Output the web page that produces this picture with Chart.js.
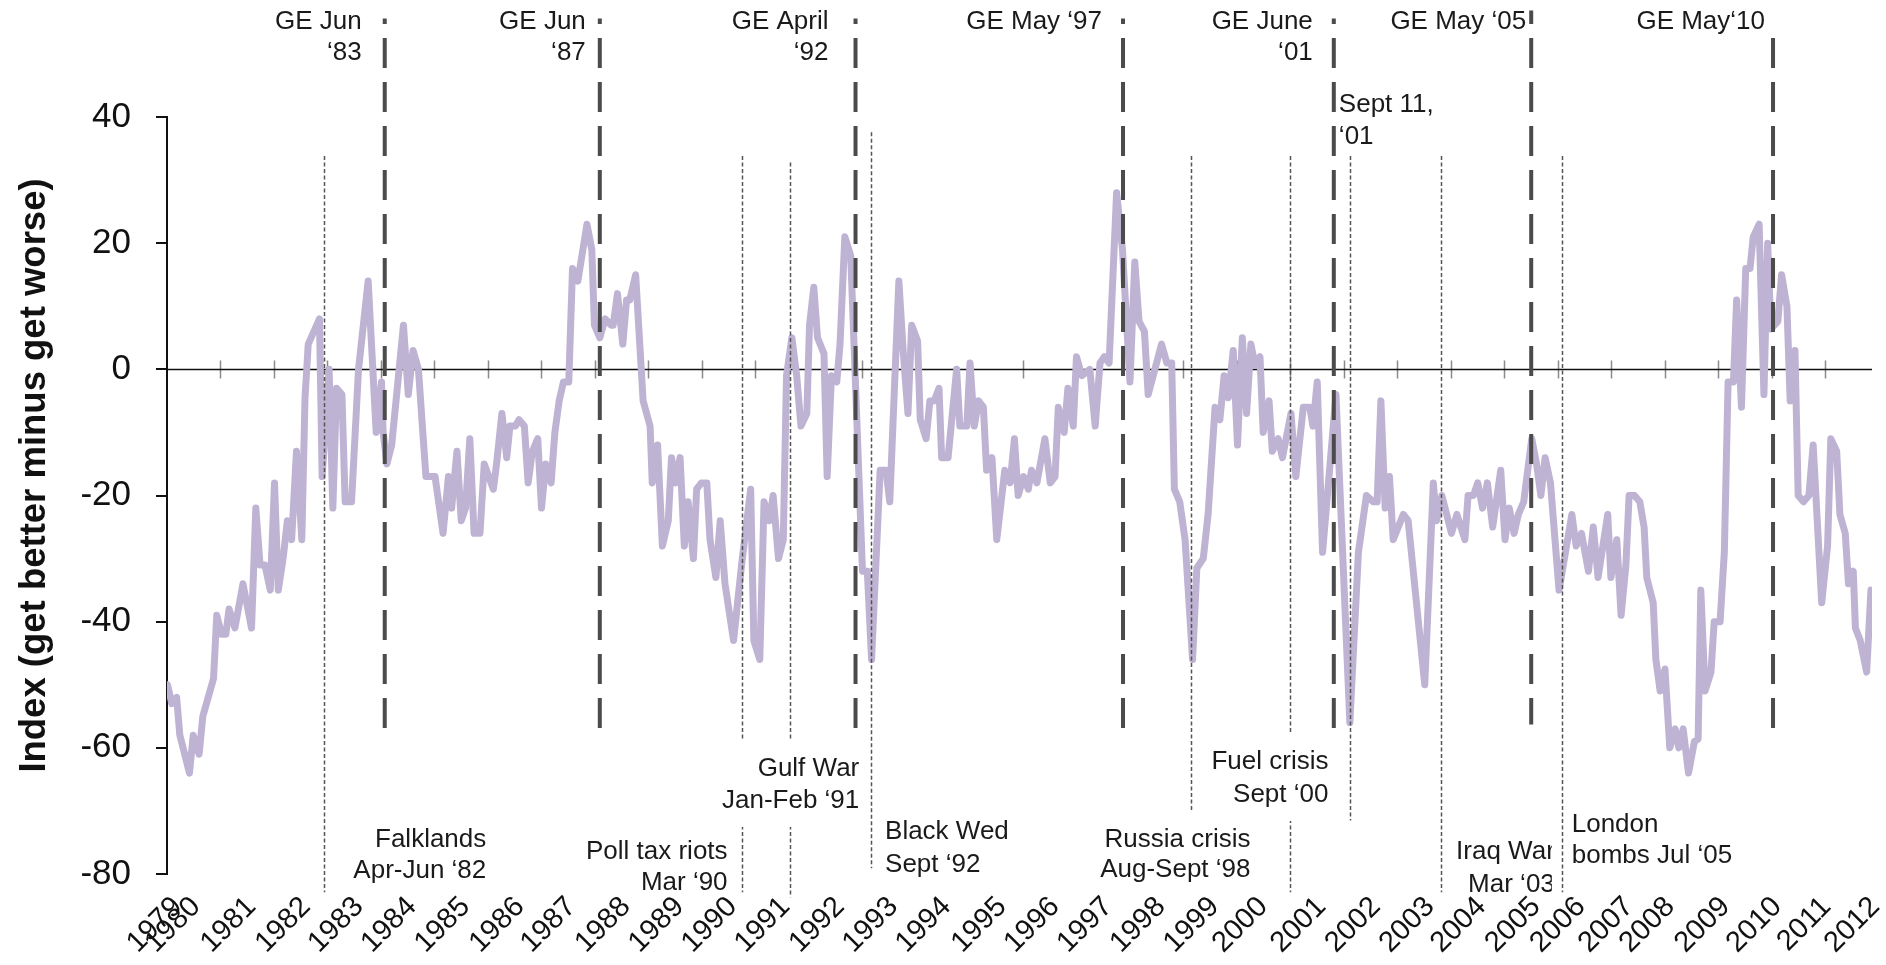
<!DOCTYPE html>
<html>
<head>
<meta charset="utf-8">
<script src="https://cdn.jsdelivr.net/npm/chart.js@4.4.1/dist/chart.umd.min.js"></script>
<style>
  html, body { margin: 0; padding: 0; background: #fff; }
</style>
</head>
<body>
<canvas id="chart" width="1886" height="965"></canvas>
<script>
const FONT = '"Liberation Sans", Arial, Helvetica, sans-serif';

// x runs in "axis years": one tick mark per year, starting part way through 1979
const X_MIN = 1979.4;
const X_MAX = 2011.27;

// year labels sit between the tick marks, a bit squeezed after 2005
const yearLabels = ['1979', '1980', '1981', '1982', '1983', '1984', '1985', '1986', '1987', '1988',
  '1989', '1990', '1991', '1992', '1993', '1994', '1995', '1996', '1997', '1998', '1999', '2000',
  '2001', '2002', '2003', '2004', '2005', '2006', '2007', '2008', '2009', '2010', '2011', '2012'];
const yearLabelAt = [1979.6, 1979.94, 1980.98, 1982.00, 1982.99, 1983.98, 1984.98, 1986.00, 1986.96, 1987.98,
  1988.98, 1989.97, 1990.96, 1991.98, 1992.98, 1993.97, 1995.01, 1996.00, 1996.99, 1997.98, 1998.98, 1999.89,
  2000.98, 2002.00, 2003.01, 2003.97, 2004.99, 2005.83, 2006.73, 2007.50, 2008.53, 2009.50, 2010.42, 2011.33];

// index (get better minus get worse)
const months = [
  1979.41, 1979.49, 1979.58, 1979.64, 1979.82, 1979.89, 1980.00, 1980.07, 1980.27, 1980.33,
  1980.42, 1980.50, 1980.56, 1980.67, 1980.82, 1980.98, 1981.06, 1981.14, 1981.23, 1981.33,
  1981.41, 1981.48, 1981.57, 1981.65, 1981.73, 1981.82, 1981.92, 1981.98, 1982.04, 1982.25,
  1982.30, 1982.43, 1982.50, 1982.57, 1982.67, 1982.73, 1982.85, 1982.98, 1983.16, 1983.31,
  1983.41, 1983.44, 1983.51, 1983.60, 1983.82, 1983.91, 1984.00, 1984.10, 1984.19, 1984.24,
  1984.41, 1984.56, 1984.66, 1984.72, 1984.82, 1984.90, 1984.98, 1985.06, 1985.14, 1985.25,
  1985.33, 1985.50, 1985.56, 1985.66, 1985.75, 1985.81, 1985.91, 1985.98, 1986.08, 1986.15,
  1986.23, 1986.33, 1986.40, 1986.48, 1986.58, 1986.65, 1986.73, 1986.81, 1986.91, 1986.98,
  1987.08, 1987.25, 1987.34, 1987.39, 1987.49, 1987.59, 1987.70, 1987.74, 1987.82, 1987.92,
  1987.99, 1988.05, 1988.16, 1988.30, 1988.43, 1988.47, 1988.57, 1988.66, 1988.77, 1988.83,
  1988.91, 1988.99, 1989.07, 1989.14, 1989.24, 1989.30, 1989.39, 1989.49, 1989.55, 1989.66,
  1989.74, 1989.83, 1989.99, 1990.14, 1990.31, 1990.37, 1990.48, 1990.56, 1990.66, 1990.73,
  1990.83, 1990.92, 1990.98, 1991.08, 1991.17, 1991.25, 1991.36, 1991.41, 1991.49, 1991.56,
  1991.68, 1991.74, 1991.82, 1991.92, 1991.98, 1992.07, 1992.18, 1992.40, 1992.49, 1992.57,
  1992.73, 1992.84, 1992.91, 1993.08, 1993.16, 1993.25, 1993.32, 1993.43, 1993.48, 1993.59,
  1993.66, 1993.74, 1993.83, 1993.88, 1994.00, 1994.16, 1994.22, 1994.35, 1994.41, 1994.49,
  1994.57, 1994.66, 1994.72, 1994.82, 1994.91, 1995.06, 1995.16, 1995.24, 1995.31, 1995.41,
  1995.50, 1995.56, 1995.66, 1995.81, 1995.91, 1996.00, 1996.06, 1996.17, 1996.24, 1996.34,
  1996.40, 1996.50, 1996.65, 1996.75, 1996.84, 1996.92, 1997.01, 1997.15, 1997.26, 1997.40,
  1997.49, 1997.57, 1997.67, 1997.74, 1997.99, 1998.09, 1998.18, 1998.23, 1998.33, 1998.43,
  1998.57, 1998.65, 1998.77, 1998.86, 1998.99, 1999.08, 1999.16, 1999.24, 1999.33, 1999.41,
  1999.50, 1999.58, 1999.66, 1999.74, 1999.83, 1999.89, 2000.00, 2000.06, 2000.17, 2000.25,
  2000.41, 2000.50, 2000.64, 2000.76, 2000.82, 2000.90, 2001.00, 2001.25, 2001.51, 2001.67,
  2001.82, 2001.95, 2002.02, 2002.09, 2002.17, 2002.25, 2002.32, 2002.51, 2002.60, 2002.91,
  2003.07, 2003.13, 2003.23, 2003.32, 2003.41, 2003.51, 2003.66, 2003.72, 2003.82, 2003.90,
  2003.99, 2004.08, 2004.18, 2004.33, 2004.41, 2004.49, 2004.58, 2004.66, 2004.76, 2004.91,
  2005.00, 2005.08, 2005.16, 2005.26, 2005.42, 2005.66, 2005.74, 2005.84, 2005.97, 2006.06,
  2006.15, 2006.33, 2006.39, 2006.50, 2006.58, 2006.67, 2006.73, 2006.83, 2006.93, 2007.01,
  2007.06, 2007.18, 2007.23, 2007.31, 2007.40, 2007.49, 2007.59, 2007.66, 2007.74, 2007.84,
  2007.95, 2008.02, 2008.07, 2008.15, 2008.26, 2008.32, 2008.43, 2008.51, 2008.58, 2008.68,
  2008.74, 2008.83, 2008.91, 2008.99, 2009.05, 2009.16, 2009.25, 2009.32, 2009.38, 2009.51,
  2009.58, 2009.68, 2009.74, 2009.83, 2009.89, 2009.99, 2010.09, 2010.17, 2010.33, 2010.44,
  2010.50, 2010.61, 2010.67, 2010.77, 2010.83, 2010.92, 2010.96, 2011.05, 2011.17, 2011.25,
];
const index = [
  -50, -53, -52, -58, -64, -58, -61, -55, -49, -39,
  -42, -42, -38, -41, -34, -41, -22, -31, -31, -35,
  -18, -35, -30, -24, -27, -13, -27, -4.5, 4, 8,
  -17, 0, -22, -3, -4, -21, -21, 0, 14, -10,
  -2, -10, -15, -12, 7, -4, 3, 0, -11, -17,
  -17, -26, -17, -22, -13, -24, -22, -11, -26, -26,
  -15, -19, -15, -7, -14, -9, -9, -8, -9, -18,
  -13, -11, -22, -15, -18, -10, -5, -2, -2, 16,
  14, 23, 19, 7, 5, 8, 7, 7, 12, 4,
  11, 11, 15, -5, -9, -18, -12, -28, -24, -14,
  -18, -14, -28, -21, -30, -19, -18, -18, -27, -33,
  -24, -34, -43, -31, -19, -43, -46, -21, -24, -20,
  -30, -27, -1, 5, -1, -9, -7, 7, 13, 5,
  2.5, -17, -1, -2, 4, 21, 18, -32, -32, -46,
  -16, -16, -21, 14, 3, -7, 7, 4.5, -8, -11,
  -5, -5, -3, -14, -14, 0, -9, -9, 1, -9,
  -5, -6, -16, -14, -27, -16, -18, -11, -20, -17,
  -19, -16, -18, -11, -18, -17, -6, -10, -3, -9,
  2, -1, 0, -9, 1, 2, 1, 28, 19, -2,
  17, 7.6, 6, -4, 4, 1, 1, -19, -21, -27,
  -46, -31.5, -30, -23, -6, -8, -1, -4.5, 3, -12,
  5, -7, 4, 0.6, 2, -10, -5, -13, -11, -14,
  -7, -17, -6, -6, -9, -2, -29, -4, -56, -29,
  -20, -21, -21, -5, -22, -17, -27, -23, -24, -50,
  -18, -24, -20, -23, -26, -23, -27, -20, -20, -18,
  -22, -18, -25, -16, -27, -22, -26, -23, -21, -11,
  -15, -20, -14, -18, -35, -23, -28, -26, -32, -25,
  -33, -23, -33, -27, -39, -31, -20, -20, -21, -25,
  -33, -37, -46, -51, -47.5, -60, -57, -60, -57, -64,
  -59, -58.6, -35, -51, -48, -40, -40, -29, -2, -2,
  11, -6, 16, 16, 21, 23, -4, 20, 6.4, 7.6,
  15, 10, -5, 3, -20, -21, -20, -12, -37, -28,
  -11, -13, -23, -26, -34, -32, -41, -43, -48, -35,
];

// general elections (dashed) and other events (dotted)
const elections = [['GE Jun', '‘83'], ['GE Jun', '‘87'], ['GE April', '‘92'], ['GE May ‘97'],
  ['GE June', '‘01'], ['GE May ‘05'], ['GE May‘10']];
const electionAt = [1983.47, 1987.49, 1992.27, 1997.27, 2001.21, 2004.90, 2009.42];
const electionSpan = [[55.6, -57.2], [55.6, -57.2], [55.6, -57.2], [55.6, -57.2],
  [55.6, -57.2], [56.9, -56.3], [54.2, -58.6]];

const events = [['Falklands', 'Apr-Jun ‘82'], ['Poll tax riots', 'Mar ‘90'], ['Gulf War', 'Jan-Feb ‘91'],
  ['Black Wed', 'Sept ‘92'], ['Russia crisis', 'Aug-Sept ‘98'], ['Fuel crisis', 'Sept ‘00'],
  ['Sept 11,', '‘01'], ['Iraq War', 'Mar ‘03'], ['London', 'bombs Jul ‘05']];
const eventAt = [1982.34, 1990.14, 1991.05, 1992.56, 1998.55, 2000.40, 2001.51, 2003.21, 2005.47];
const eventSpan = [[33.8, -82.9], [33.8, -82.9], [32.8, -83.7], [37.6, -79.1], [33.8, -70.0],
  [33.8, -82.9], [33.8, -71.5], [33.8, -82.9], [33.8, -82.9]];

// where the annotation texts sit next to their lines
const electionDx = [-23, -14, -27, -21, -21, -5, -8];
const electionRows = [22, 53];
const eventLayout = [
  { align: 'right', dx: 162, rows: [840, 871] },
  { align: 'right', dx: -14, rows: [852, 883] },
  { align: 'right', dx: 69, rows: [769, 801], box: true },
  { align: 'left', dx: 14, rows: [832, 865] },
  { align: 'right', dx: 59, rows: [840, 870] },
  { align: 'right', dx: 38, rows: [762, 795], box: true },
  { align: 'left', dx: -11, rows: [105, 137] },
  { align: 'right', dx: 114, rows: [852, 885], clip: -3 },
  { align: 'left', dx: 10, rows: [825, 856] },
];

const TEXT = '#1a1a1a';

const overlays = {
  id: 'overlays',
  beforeDatasetsDraw(chart) {
    const { ctx, chartArea: a, scales: { x, y } } = chart;
    const y0 = Math.round(y.getPixelForValue(0)) + 0.5;
    ctx.save();
    // small year ticks across the zero line
    ctx.strokeStyle = '#8a8a8a';
    ctx.lineWidth = 1.5;
    ctx.beginPath();
    for (let t = X_MIN + 1; t < X_MAX; t++) {
      const px = Math.round(x.getPixelForValue(t)) + 0.5;
      ctx.moveTo(px, y0 - 9);
      ctx.lineTo(px, y0 + 9);
    }
    ctx.stroke();
    ctx.strokeStyle = '#111';
    ctx.lineWidth = 1.5;
    ctx.beginPath();
    ctx.moveTo(a.left, y0);
    ctx.lineTo(a.right, y0);
    ctx.stroke();
    ctx.restore();
  },
  afterDatasetsDraw(chart) {
    const { ctx, scales: { x, y } } = chart;
    ctx.save();

    ctx.strokeStyle = '#555';
    ctx.lineWidth = 1.5;
    ctx.setLineDash([4, 2.5]);
    eventAt.forEach((v, i) => {
      const px = Math.round(x.getPixelForValue(v)) + 0.5;
      ctx.beginPath();
      ctx.moveTo(px, y.getPixelForValue(eventSpan[i][0]));
      ctx.lineTo(px, y.getPixelForValue(eventSpan[i][1]));
      ctx.stroke();
    });

    ctx.strokeStyle = '#4b4b4b';
    ctx.lineWidth = 4;
    ctx.setLineDash([30, 14]);
    electionAt.forEach((v, i) => {
      const px = x.getPixelForValue(v);
      const top = y.getPixelForValue(electionSpan[i][0]);
      ctx.lineDashOffset = (top + 6) % 44;
      ctx.beginPath();
      ctx.moveTo(px, top);
      ctx.lineTo(px, y.getPixelForValue(electionSpan[i][1]));
      ctx.stroke();
    });
    ctx.setLineDash([]);

    ctx.font = `26px ${FONT}`;
    ctx.textBaseline = 'middle';
    ctx.fillStyle = TEXT;
    ctx.textAlign = 'right';
    elections.forEach((lines, i) => {
      const ax = x.getPixelForValue(electionAt[i]) + electionDx[i];
      lines.forEach((t, k) => ctx.fillText(t, ax, electionRows[k]));
    });

    events.forEach((lines, i) => {
      const L = eventLayout[i];
      const ax = x.getPixelForValue(eventAt[i]) + L.dx;
      ctx.textAlign = L.align;
      if (L.box) {
        const w = Math.max(...lines.map(t => ctx.measureText(t).width));
        const left = L.align === 'right' ? ax - w - 6 : ax - 6;
        ctx.fillStyle = '#fff';
        ctx.fillRect(left, L.rows[0] - 30, w + 12, L.rows[1] - L.rows[0] + 56);
        ctx.fillStyle = TEXT;
      }
      ctx.save();
      if (L.clip) {
        ctx.beginPath();
        ctx.rect(0, 0, ax + L.clip, chart.height);
        ctx.clip();
      }
      lines.forEach((t, k) => ctx.fillText(t, ax, L.rows[k]));
      ctx.restore();
    });
    ctx.restore();
  },
  afterDraw(chart) {
    const { ctx, chartArea: a } = chart;
    ctx.save();
    ctx.translate(35, (a.top + a.bottom) / 2 - 20);
    ctx.rotate(-Math.PI / 2);
    ctx.font = `bold 36.5px ${FONT}`;
    ctx.fillStyle = '#111';
    ctx.textAlign = 'center';
    ctx.textBaseline = 'middle';
    ctx.fillText('Index (get better minus get worse)', 0, 0);
    ctx.restore();
  },
};

new Chart(document.getElementById('chart'), {
  type: 'line',
  data: {
    datasets: [{
      data: months.map((m, i) => ({ x: m, y: index[i] })),
      borderColor: '#bfb3d3',
      borderWidth: 7,
      borderJoinStyle: 'round',
      borderCapStyle: 'round',
      pointRadius: 0,
      tension: 0,
      fill: false,
    }],
  },
  options: {
    responsive: false,
    animation: false,
    layout: { padding: { top: 117, right: 14, left: 0, bottom: 0 } },
    plugins: { legend: { display: false }, tooltip: { enabled: false } },
    scales: {
      x: {
        type: 'linear',
        min: X_MIN,
        max: X_MAX,
        grid: { display: false, drawTicks: false },
        border: { display: false },
        afterBuildTicks: s => { s.ticks = yearLabelAt.map(v => ({ value: v })); },
        afterFit: s => {
          s.height = 91;
          // labels may hang over the plot edges; keep the plot width fixed
          s.paddingLeft = 0;
          s.paddingRight = 0;
        },
        ticks: {
          autoSkip: false,
          minRotation: 45,
          maxRotation: 45,
          padding: 16,
          color: '#111',
          font: { size: 29, family: FONT },
          callback: (v, i) => yearLabels[i],
        },
      },
      y: {
        min: -80,
        max: 40,
        afterFit: s => { s.width = 167; },
        ticks: { stepSize: 20, padding: 25, color: '#111', font: { size: 35, family: FONT } },
        grid: { drawOnChartArea: false, tickLength: 11, color: '#111', lineWidth: 2 },
        border: { color: '#111', width: 2 },
      },
    },
  },
  plugins: [overlays],
});
</script>
</body>
</html>
